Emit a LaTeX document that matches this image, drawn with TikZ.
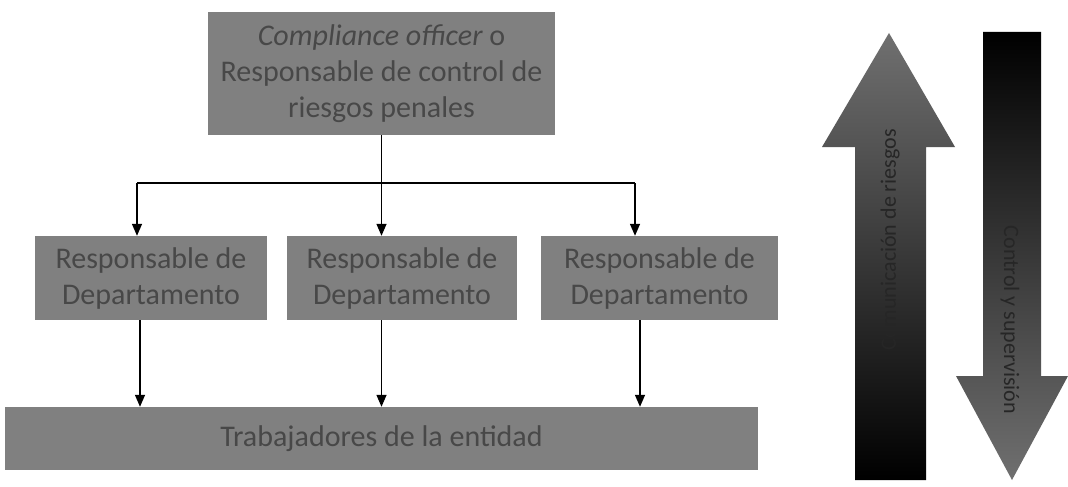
\documentclass[tikz,border=0pt]{standalone}
\usepackage{fontspec}
\setmainfont{Carlito}
\usetikzlibrary{arrows.meta}
\definecolor{boxgray}{RGB}{128,128,128}
\definecolor{boxtext}{RGB}{72,72,72}
\definecolor{arrgray}{RGB}{112,112,112}
\begin{document}
\begin{tikzpicture}[x=1pt,y=-1pt,
  box/.style={draw=none,fill=boxgray,text=boxtext,font=\fontsize{30}{36}\selectfont,align=center,inner sep=0pt},
  conn/.style={line width=1.4pt,-{Triangle[length=12pt,width=10pt]}},
  line/.style={line width=1.4pt},
  arrtext/.style={text=black!85,font=\fontsize{22}{26}\selectfont,inner sep=0pt}]
\useasboundingbox (0,0) rectangle (1068,487);
\fill[white] (0,0) rectangle (1068,487);
% top box
\node[box,minimum width=347pt,minimum height=123pt] (top) at (381.5,73.5)
  {\itshape Compliance officer \upshape o\\Responsable de control de\\riesgos penales};
% middle boxes
\node[box,minimum width=232pt,minimum height=84pt] (d1) at (151,278) {Responsable de\\Departamento};
\node[box,minimum width=230pt,minimum height=84pt] (d2) at (402,278) {Responsable de\\Departamento};
\node[box,minimum width=237pt,minimum height=84pt] (d3) at (659.5,278) {Responsable de\\Departamento};
% bottom box
\node[box,minimum width=753pt,minimum height=63pt] (w) at (381.5,438.5) {Trabajadores de la entidad};
% connectors
\coordinate (j) at (381.5,183);
\coordinate (jl) at (137,183);
\coordinate (jr) at (635,183);
\draw[line] (top.south) -- (j);
\draw[line] (jl) -- (jr);
\draw[conn] (jl) -- (jl |- d1.north);
\draw[conn] (j) -- (j |- d2.north);
\draw[conn] (jr) -- (jr |- d3.north);
\coordinate (b1) at (140,320);
\coordinate (b2) at (381.5,320);
\coordinate (b3) at (640,320);
\draw[conn] (b1) -- (b1 |- w.north);
\draw[conn] (b2) -- (b2 |- w.north);
\draw[conn] (b3) -- (b3 |- w.north);
% right arrows
\shade[top color=arrgray,bottom color=black]
  (889,33) -- (955,147) -- (926,147) -- (926,480) -- (855,480) -- (855,147) -- (822,147) -- cycle;
\node[arrtext,rotate=90] (up) at (890,240) {Comunicación de riesgos};
\shade[top color=black,bottom color=arrgray]
  (983,32) -- (1041,32) -- (1041,376) -- (1068,376) -- (1012,480) -- (956,376) -- (983,376) -- cycle;
\node[arrtext,rotate=-90] (down) at (1010,320) {Control y supervisión};
\end{tikzpicture}
\end{document}
